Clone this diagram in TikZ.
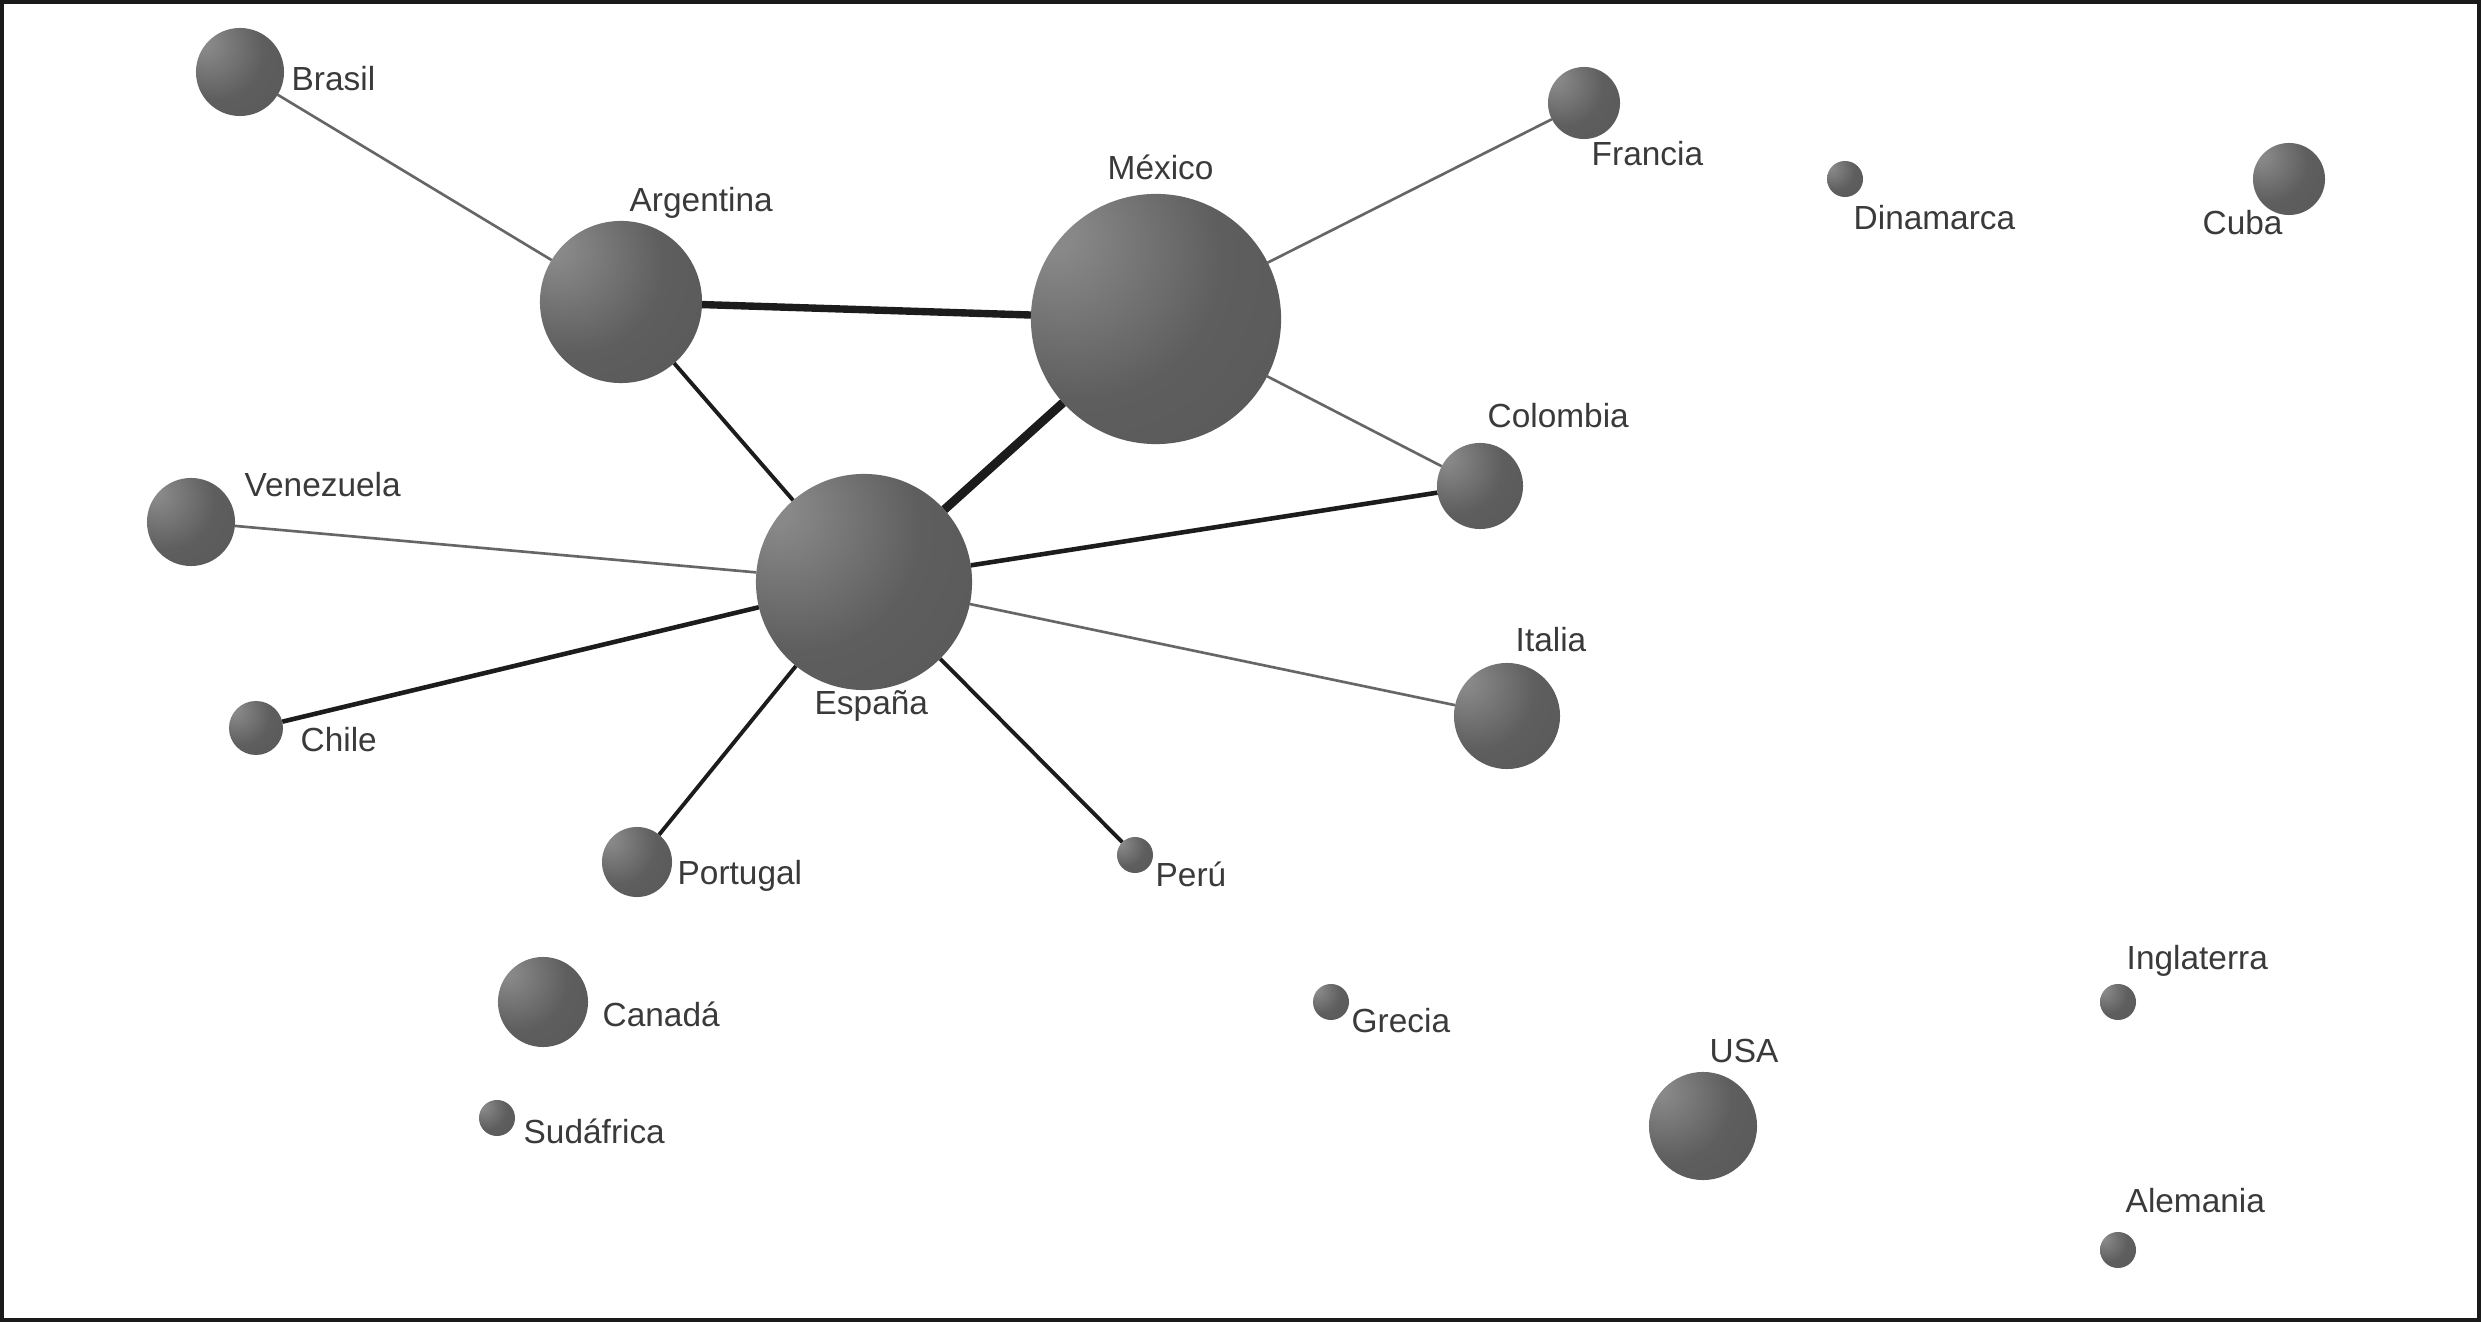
\documentclass[tikz,border=0pt]{standalone}
\usepackage{fontspec}
\setmainfont{Liberation Sans}
\usetikzlibrary{backgrounds}
\definecolor{sphhi}{HTML}{888888}
\definecolor{sphmid}{HTML}{5E5E5E}
\definecolor{sphbody}{HTML}{575757}
\definecolor{sphlo}{HTML}{4A4A4A}
\definecolor{lblc}{HTML}{3A3A3A}
\definecolor{thinc}{HTML}{666666}
\definecolor{darkc}{HTML}{1C1C1C}
\definecolor{framec}{HTML}{1A1A1A}
\pgfdeclareradialshading{sphshade}{\pgfpoint{-22bp}{18bp}}{color(0bp)=(sphhi); color(4bp)=(sphhi); color(28bp)=(sphmid); color(55bp)=(sphbody); color(70bp)=(sphlo); color(85bp)=(sphlo)}
\begin{document}
\begin{tikzpicture}[x=0.01cm,y=-0.01cm,
  sph/.style={circle, inner sep=0pt, outer sep=0pt, minimum size=#1*0.02cm, shade, shading=sphshade},
  lbl/.style={font=\fontsize{9.5}{11}\selectfont, text=lblc, inner sep=0pt, anchor=base west},
  thinedge/.style={draw=thinc, line width=0.75pt},
  midedge/.style={draw=darkc, line width=1.1pt},
  medge/.style={draw=darkc, line width=1.3pt},
  heavyedge/.style={draw=darkc, line width=2.1pt},
  heaviest/.style={draw=darkc, line width=2.5pt}]
\useasboundingbox (0,0) rectangle (2481,1322);
% spheres
\node[sph=44]  (bra) at (240,72) {};
\node[sph=81]  (arg) at (621,302) {};
\node[sph=125] (mex) at (1156,319) {};
\node[sph=36]  (fra) at (1584,103) {};
\node[sph=18]  (din) at (1845,179) {};
\node[sph=36]  (cub) at (2289,179) {};
\node[sph=43]  (col) at (1480,486) {};
\node[sph=44]  (ven) at (191,522) {};
\node[sph=108] (esp) at (864,582) {};
\node[sph=27]  (chi) at (256,728) {};
\node[sph=53]  (ita) at (1507,716) {};
\node[sph=35]  (por) at (637,862) {};
\node[sph=18]  (per) at (1135,855) {};
\node[sph=45]  (can) at (543,1002) {};
\node[sph=18]  (gre) at (1331,1002) {};
\node[sph=18]  (ing) at (2118,1002) {};
\node[sph=54]  (usa) at (1703,1126) {};
\node[sph=18]  (sud) at (497,1118) {};
\node[sph=18]  (ale) at (2118,1250) {};
% labels
\node[lbl] (tbra) at (291,91) {Brasil};
\node[lbl] (targ) at (629,212) {Argentina};
\node[lbl] (tmex) at (1107,180) {México};
\node[lbl] (tfra) at (1591,166) {Francia};
\node[lbl] (tdin) at (1853,230) {Dinamarca};
\node[lbl] (tcub) at (2202,235) {Cuba};
\node[lbl] (tcol) at (1487,428) {Colombia};
\node[lbl] (tven) at (244,497) {Venezuela};
\node[lbl] (tesp) at (814,715) {España};
\node[lbl] (tchi) at (300,752) {Chile};
\node[lbl] (tita) at (1515,652) {Italia};
\node[lbl] (tpor) at (677,885) {Portugal};
\node[lbl] (tper) at (1155,887) {Perú};
\node[lbl] (tcan) at (602,1027) {Canadá};
\node[lbl] (tgre) at (1351,1033) {Grecia};
\node[lbl] (ting) at (2126,970) {Inglaterra};
\node[lbl] (tusa) at (1709,1062) {USA};
\node[lbl] (tsud) at (523,1143) {Sudáfrica};
\node[lbl] (tale) at (2125,1212) {Alemania};
\begin{scope}[on background layer]
  \fill[white] (0,0) rectangle (2481,1322);
  \draw[thinedge] (bra) -- (arg);
  \draw[heavyedge] (arg) -- (mex);
  \draw[midedge] (arg) -- (esp);
  \draw[heaviest] (mex) -- (esp);
  \draw[thinedge] (mex) -- (fra);
  \draw[thinedge] (mex) -- (col);
  \draw[medge] (esp) -- (col);
  \draw[thinedge] (esp) -- (ven);
  \draw[medge] (esp) -- (chi);
  \draw[thinedge] (esp) -- (ita);
  \draw[midedge] (esp) -- (por);
  \draw[midedge] (esp) -- (per);
\end{scope}
\draw[draw=framec, line width=0.04cm] (2,2) rectangle (2479,1320);
\end{tikzpicture}
\end{document}
